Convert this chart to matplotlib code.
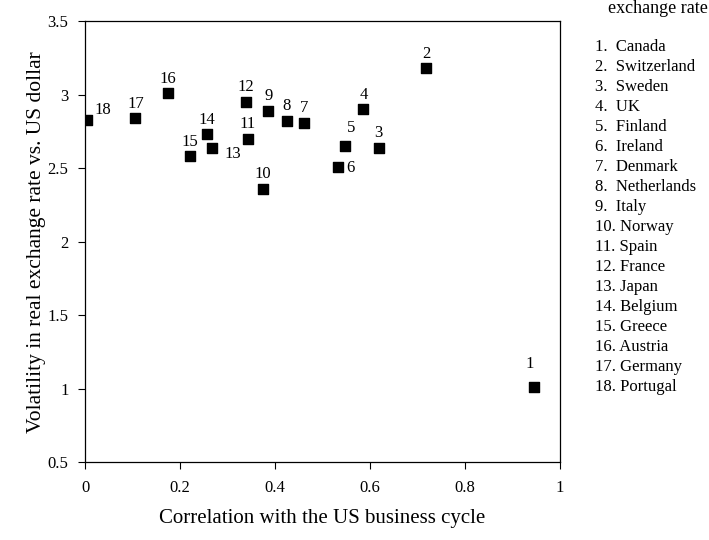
import matplotlib
matplotlib.use("Agg")
import matplotlib.pyplot as plt

plt.rcParams['font.family'] = ['Liberation Serif', 'DejaVu Serif']

# country number, correlation with US cycle, volatility vs US dollar
ids = [1, 2, 3, 4, 5, 6, 7, 8, 9, 10, 11, 12, 13, 14, 15, 16, 17, 18]
countries = ["Canada", "Switzerland", "Sweden", "UK", "Finland", "Ireland",
             "Denmark", "Netherlands", "Italy", "Norway", "Spain", "France",
             "Japan", "Belgium", "Greece", "Austria", "Germany", "Portugal"]
correlation = [0.945, 0.718, 0.618, 0.586, 0.548, 0.533, 0.460, 0.425, 0.386,
               0.375, 0.342, 0.339, 0.267, 0.257, 0.221, 0.174, 0.106, 0.005]
volatility = [1.01, 3.18, 2.64, 2.90, 2.65, 2.51, 2.81, 2.82, 2.89,
              2.36, 2.70, 2.95, 2.64, 2.73, 2.58, 3.01, 2.84, 2.83]

# label placement (offset in points from the marker), default is just above
label_offset = {1: (-3, 17), 5: (4, 13), 6: (6, -1), 13: (9, -5), 18: (5, 7)}
label_ha = {6: 'left', 13: 'left', 18: 'left'}

fig = plt.figure(figsize=(7.09, 5.4), dpi=100)
ax = fig.add_axes([0.120, 0.144, 0.670, 0.817])

ax.scatter(correlation, volatility, marker='s', s=42, color='black', zorder=3)
for n, x, y in zip(ids, correlation, volatility):
    dx, dy = label_offset.get(n, (0, 10.5))
    ax.annotate(str(n), (x, y), xytext=(dx, dy), textcoords='offset points',
                ha=label_ha.get(n, 'center'), va='center', fontsize=12)

ax.set_xlim(0, 1)
ax.set_ylim(0.5, 3.5)
ax.set_xticks([0, 0.2, 0.4, 0.6, 0.8, 1])
ax.set_xticklabels(["0", "0.2", "0.4", "0.6", "0.8", "1"])
ax.set_yticks([0.5, 1, 1.5, 2, 2.5, 3, 3.5])
ax.set_yticklabels(["0.5", "1", "1.5", "2", "2.5", "3", "3.5"])
ax.tick_params(axis='x', direction='out', length=5, pad=8, labelsize=12)
ax.tick_params(axis='y', direction='out', length=5, pad=7, labelsize=12)
for s in ax.spines.values():
    s.set_linewidth(0.9)

ax.set_xlabel("Correlation with the US business cycle", fontsize=15, labelpad=9)
ax.set_ylabel("Volatility in real exchange rate vs. US dollar", fontsize=15.5, labelpad=1)

# country key on the right
for i, (n, name) in enumerate(zip(ids, countries)):
    sep = ".  " if n < 10 else ". "
    fig.text(595 / 709, 1 - (47 + i * 20) / 540, f"{n}{sep}{name}",
             ha='left', va='center', fontsize=12)

# title cut off by the top edge of the scan
fig.text(0.998, 1 - 13 / 540, "exchange rate", ha='right', va='baseline', fontsize=13)

fig.savefig("out.png", dpi=100)
